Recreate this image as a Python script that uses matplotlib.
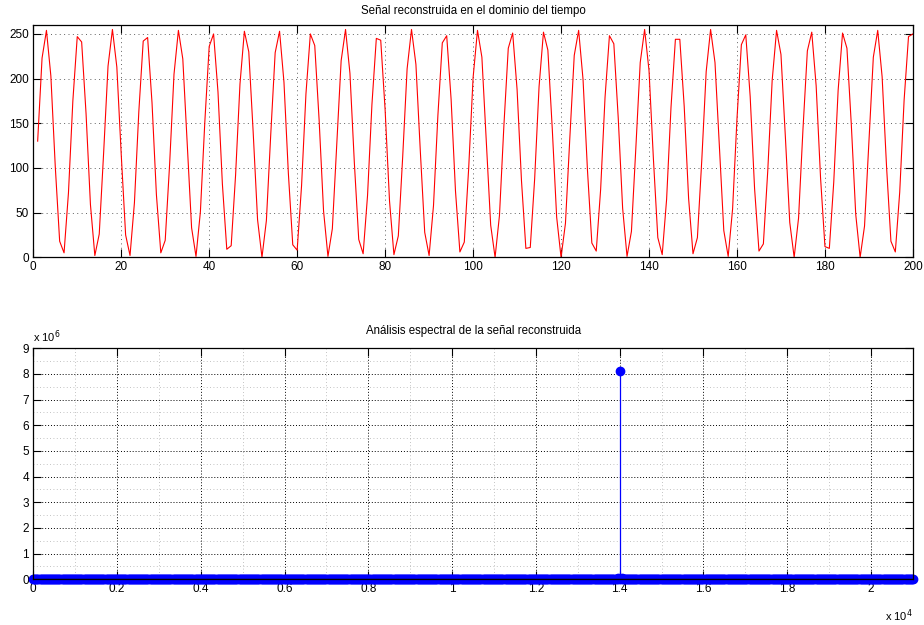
import numpy as np
import matplotlib
matplotlib.use("Agg")
import matplotlib.pyplot as plt
from matplotlib.ticker import MultipleLocator

plt.rcParams['font.family'] = ['Liberation Sans', 'DejaVu Sans']

# Reconstructed signal (8-bit samples, n = 1..200)
signal = [
    130, 223, 254, 203, 102, 18, 5, 72, 175, 247,
    241, 161, 59, 2, 26, 117, 214, 255, 213, 115,
    25, 2, 61, 163, 242, 246, 173, 70, 5, 19,
    104, 205, 254, 222, 127, 33, 1, 51, 151, 236,
    250, 185, 82, 9, 13, 92, 194, 253, 230, 140,
    42, 0, 41, 138, 229, 253, 196, 94, 14, 8,
    80, 183, 250, 237, 153, 52, 1, 32, 126, 220,
    255, 206, 106, 20, 4, 69, 171, 245, 243, 165,
    63, 3, 24, 113, 211, 255, 216, 119, 28, 2,
    58, 159, 240, 248, 177, 74, 6, 17, 100, 201,
    254, 224, 131, 36, 0, 47, 147, 234, 251, 188,
    86, 10, 11, 88, 191, 252, 232, 144, 45, 0,
    38, 134, 226, 254, 199, 98, 16, 7, 76, 179,
    248, 239, 156, 55, 1, 29, 122, 218, 255, 209,
    110, 22, 3, 65, 168, 244, 244, 169, 66, 4,
    22, 109, 208, 255, 218, 123, 30, 1, 54, 155,
    238, 249, 180, 77, 7, 15, 97, 198, 254, 227,
    135, 39, 0, 44, 143, 231, 252, 192, 89, 12,
    10, 84, 187, 251, 234, 148, 48, 0, 35, 130,
    224, 254, 202, 102, 18, 6, 73, 176, 247, 250,
]
sample_idx = np.arange(1, len(signal) + 1)

# Spectrum: frequency grid (Hz) and the few non-zero bins
spec_freq = np.linspace(0, 21000, 841)
peak_freqs = [13950, 14000, 14050]
peak_mags = [0.06e6, 8.1e6, 0.05e6]

spec_mag = np.zeros_like(spec_freq)
for f, m in zip(peak_freqs, peak_mags):
    spec_mag[np.argmin(np.abs(spec_freq - f))] = m

fig = plt.figure(figsize=(9.24, 6.25), dpi=100)
ax1 = fig.add_axes([0.036, 0.5883, 0.952, 0.3717])
ax2 = fig.add_axes([0.036, 0.0731, 0.952, 0.3696])

# --- time domain ---
ax1.plot(sample_idx, signal, color='#ff0000', linewidth=0.8)
ax1.set_xlim(0, 200)
ax1.set_ylim(0, 260)
ax1.xaxis.set_major_locator(MultipleLocator(20))
ax1.yaxis.set_major_locator(MultipleLocator(50))
ax1.grid(True, color='#606060', linestyle=(0, (1, 3.5)), linewidth=0.7)
ax1.set_title('Señal reconstruida en el dominio del tiempo', fontsize=8.3, pad=8)

# --- spectrum ---
markerline, stemlines, baseline = ax2.stem(spec_freq, spec_mag, linefmt='-', markerfmt='o', basefmt='-')
plt.setp(stemlines, color='#0000ff', linewidth=0.9)
plt.setp(markerline, color='#0000ff', markersize=6, clip_on=False)
plt.setp(baseline, color='black', linewidth=0.9)
ax2.set_xlim(0, 21000)
ax2.set_ylim(0, 9e6)
ax2.xaxis.set_minor_locator(MultipleLocator(1000))
ax2.yaxis.set_minor_locator(MultipleLocator(0.5e6))
ax2.set_xticks(np.arange(0, 21000, 2000))
ax2.set_xticklabels(['0', '0.2', '0.4', '0.6', '0.8', '1', '1.2', '1.4', '1.6', '1.8', '2'])
ax2.set_yticks(np.arange(0, 10e6, 1e6))
ax2.set_yticklabels([str(i) for i in range(10)])
ax2.grid(True, which='major', color='black', linestyle=(0, (1, 2)), linewidth=0.7)
ax2.grid(True, which='minor', color='#b0b0b0', linestyle=(0, (1, 3)), linewidth=0.6)
ax2.set_title('Análisis espectral de la señal reconstruida', fontsize=8.3, pad=10)
ax2.text(0.0, 1.015, r'x 10$^{6}$', transform=ax2.transAxes, fontsize=8, ha='left', va='bottom')
ax2.text(1.0, -0.12, r'x 10$^{4}$', transform=ax2.transAxes, fontsize=8, ha='right', va='top')

for ax in (ax1, ax2):
    ax.set_axisbelow(True)
    ax.tick_params(which='major', direction='in', length=6, width=0.8, labelsize=8.5,
                   top=True, right=True, pad=3)
    ax.tick_params(which='minor', length=0, top=True, right=True)
    for s in ax.spines.values():
        s.set_linewidth(0.9)

fig.savefig('out.png', dpi=100, facecolor='white')
